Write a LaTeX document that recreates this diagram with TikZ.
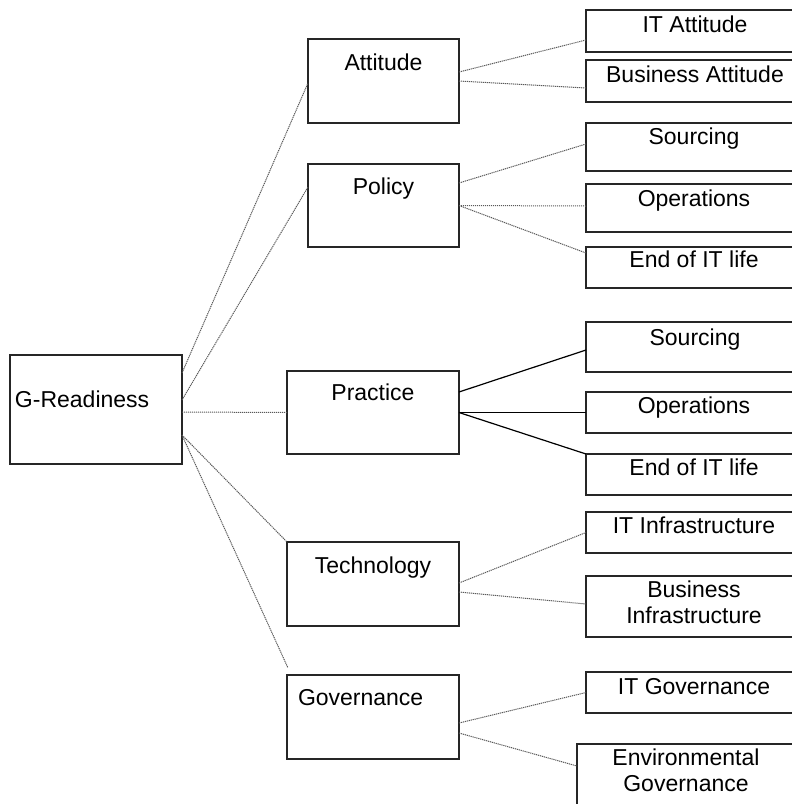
\documentclass[tikz,border=0pt]{standalone}
\usepackage{fontspec}
\setmainfont{Liberation Sans}
\begin{document}
\begin{tikzpicture}[x=1pt,y=-1pt,
  box/.style={draw=black!85,line width=1.4pt,inner sep=0pt,outer sep=0pt},
  lbl/.style={inner sep=0pt,outer sep=0pt,font=\fontsize{23}{25}\selectfont,anchor=base},
  dotline/.style={draw=black!65,line width=1pt,dash pattern=on 1.2pt off 0.8pt},
  solidline/.style={draw=black,line width=1.2pt}]
\clip (0,0) rectangle (792,804);
% left column
\node[box,minimum width=172pt,minimum height=109pt] (grd) at (96,409.5) {};
\node[lbl,anchor=base west] at (15,407) {G-Readiness};
\node[box,minimum width=151pt,minimum height=84pt] (att) at (383.5,81) {};
\node[lbl] at (383.5,70) {Attitude};
\node[box,minimum width=151pt,minimum height=83pt] (pol) at (383.5,205.5) {};
\node[lbl] at (383.5,194) {Policy};
\node[box,minimum width=172pt,minimum height=83pt] (pra) at (373,412.5) {};
\node[lbl] at (373,400) {Practice};
\node[box,minimum width=172pt,minimum height=84pt] (tec) at (373,584) {};
\node[lbl] at (373,573) {Technology};
\node[box,minimum width=172pt,minimum height=84pt] (gov) at (373,717) {};
\node[lbl,anchor=base west] at (298,705) {Governance};
% right column
\node[box,minimum width=219pt,minimum height=42pt] (itatt) at (695.5,31) {};
\node[lbl] at (695,32) {IT Attitude};
\node[box,minimum width=219pt,minimum height=42pt] (busatt) at (695.5,81) {};
\node[lbl] at (695,82) {Business Attitude};
\node[box,minimum width=219pt,minimum height=48pt] (srca) at (695.5,147) {};
\node[lbl] at (694,144) {Sourcing};
\node[box,minimum width=219pt,minimum height=48pt] (opsa) at (695.5,208) {};
\node[lbl] at (694,206) {Operations};
\node[box,minimum width=219pt,minimum height=41pt] (enda) at (695.5,267.5) {};
\node[lbl] at (694,267) {End of IT life};
\node[box,minimum width=219pt,minimum height=50pt] (srcb) at (695.5,347) {};
\node[lbl] at (695,345) {Sourcing};
\node[box,minimum width=219pt,minimum height=41pt] (opsb) at (695.5,412.5) {};
\node[lbl] at (694,413) {Operations};
\node[box,minimum width=219pt,minimum height=41pt] (endb) at (695.5,474.5) {};
\node[lbl] at (694,475) {End of IT life};
\node[box,minimum width=219pt,minimum height=41pt] (itinf) at (695.5,532.5) {};
\node[lbl] at (694,533) {IT Infrastructure};
\node[box,minimum width=219pt,minimum height=61pt] (businf) at (695.5,606.5) {};
\node[lbl] at (694,597) {Business};
\node[lbl] at (694,623) {Infrastructure};
\node[box,minimum width=219pt,minimum height=41pt] (itgov) at (695.5,692.5) {};
\node[lbl] at (694,694) {IT Governance};
\node[box,minimum width=228pt,minimum height=62pt] (envgov) at (691,775) {};
\node[lbl] at (686,765) {Environmental};
\node[lbl] at (686,791) {Governance};
% connectors from G-Readiness
\draw[dotline] ([yshift=36.5pt]grd.east) -- ([yshift=-2pt]att.west);
\draw[dotline] ([yshift=9.5pt]grd.east) -- ([yshift=18.5pt]pol.west);
\draw[dotline] ([yshift=-2.5pt]grd.east) -- (pra.west);
\draw[dotline] ([yshift=-25.5pt]grd.east) -- (tec.north west);
\draw[dotline] ([yshift=-25.5pt]grd.east) -- ([xshift=1pt,yshift=7pt]gov.north west);
% Attitude
\draw[dotline] ([yshift=9pt]att.east) -- ([yshift=-9pt]itatt.west);
\draw[dotline] (att.east) -- ([yshift=-7pt]busatt.west);
% Policy
\draw[dotline] ([yshift=22.5pt]pol.east) -- ([yshift=3pt]srca.west);
\draw[dotline] (pol.east) -- ([yshift=2pt]opsa.west);
\draw[dotline] (pol.east) -- ([yshift=14.5pt]enda.west);
% Practice
\draw[solidline] ([yshift=20.5pt]pra.east) -- ([yshift=-3pt]srcb.west);
\draw[solidline] (pra.east) -- (opsb.west);
\draw[solidline] (pra.east) -- (endb.north west);
% Technology
\draw[dotline] ([yshift=1pt]tec.east) -- (itinf.west);
\draw[dotline] ([yshift=-8pt]tec.east) -- ([yshift=2.5pt]businf.west);
% Governance
\draw[dotline] ([yshift=-6pt]gov.east) -- (itgov.west);
\draw[dotline] ([yshift=-16pt]gov.east) -- ([yshift=9pt]envgov.west);
\end{tikzpicture}
\end{document}
